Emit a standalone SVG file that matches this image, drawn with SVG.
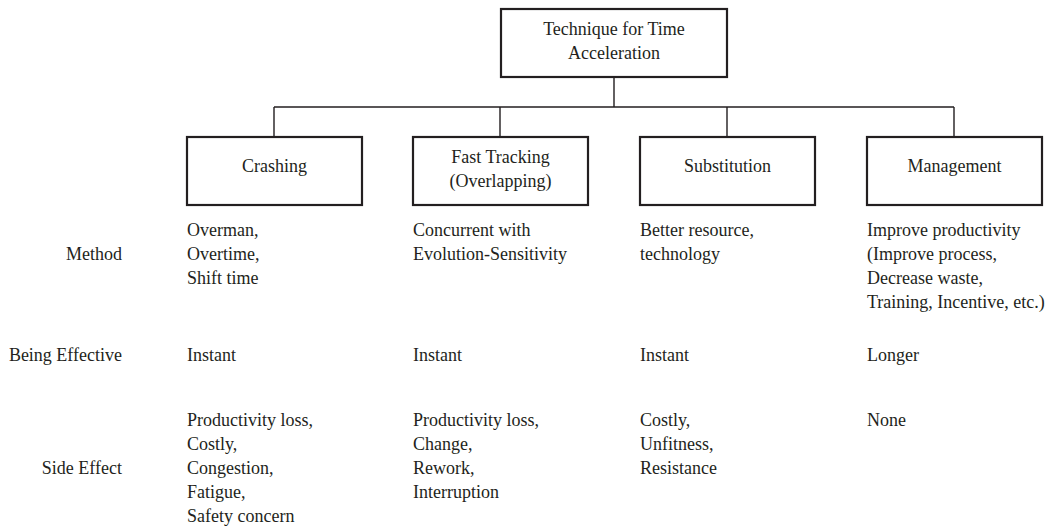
<svg xmlns="http://www.w3.org/2000/svg" width="1052" height="528" viewBox="0 0 1052 528">
<style>
text{font-family:"Liberation Serif","Times New Roman",serif;font-size:18px;fill:#231f20}
.box{fill:#fff;stroke:#231f20;stroke-width:2.2}
.c{text-anchor:middle}
.r{text-anchor:end}
.conn{fill:none;stroke:#231f20;stroke-width:1.4}
</style>
<rect width="1052" height="528" fill="#fff"/>
<g id="connectors">
<path class="conn" d="M614 77V107M274 107H954M274 107V137M500 107V137M727 107V137M954 107V137"/>
</g>
<g id="root">
<rect class="box" x="501" y="9" width="226" height="68"/>
<text class="c" x="614" y="35">Technique for Time</text>
<text class="c" x="614" y="59">Acceleration</text>
</g>
<g id="crashing">
<rect class="box" x="187" y="137" width="175" height="68"/>
<text class="c" x="274.5" y="172">Crashing</text>
</g>
<g id="fasttracking">
<rect class="box" x="413" y="137" width="175" height="68"/>
<text class="c" x="500.5" y="163">Fast Tracking</text>
<text class="c" x="500.5" y="187">(Overlapping)</text>
</g>
<g id="substitution">
<rect class="box" x="640" y="137" width="175" height="68"/>
<text class="c" x="727.5" y="172">Substitution</text>
</g>
<g id="management">
<rect class="box" x="867" y="137" width="175" height="68"/>
<text class="c" x="954.5" y="172">Management</text>
</g>
<g id="row-labels">
<text class="r" x="122" y="260">Method</text>
<text class="r" x="122" y="361">Being Effective</text>
<text class="r" x="122" y="474">Side Effect</text>
</g>
<g id="col-crashing">
<text x="187" y="236">Overman,</text>
<text x="187" y="260">Overtime,</text>
<text x="187" y="284">Shift time</text>
<text x="187" y="361">Instant</text>
<text x="187" y="426">Productivity loss,</text>
<text x="187" y="450">Costly,</text>
<text x="187" y="474">Congestion,</text>
<text x="187" y="498">Fatigue,</text>
<text x="187" y="522">Safety concern</text>
</g>
<g id="col-fasttracking">
<text x="413" y="236">Concurrent with</text>
<text x="413" y="260">Evolution-Sensitivity</text>
<text x="413" y="361">Instant</text>
<text x="413" y="426">Productivity loss,</text>
<text x="413" y="450">Change,</text>
<text x="413" y="474">Rework,</text>
<text x="413" y="498">Interruption</text>
</g>
<g id="col-substitution">
<text x="640" y="236">Better resource,</text>
<text x="640" y="260">technology</text>
<text x="640" y="361">Instant</text>
<text x="640" y="426">Costly,</text>
<text x="640" y="450">Unfitness,</text>
<text x="640" y="474">Resistance</text>
</g>
<g id="col-management">
<text x="867" y="236">Improve productivity</text>
<text x="867" y="260">(Improve process,</text>
<text x="867" y="284">Decrease waste,</text>
<text x="867" y="308">Training, Incentive, etc.)</text>
<text x="867" y="361">Longer</text>
<text x="867" y="426">None</text>
</g>
</svg>
